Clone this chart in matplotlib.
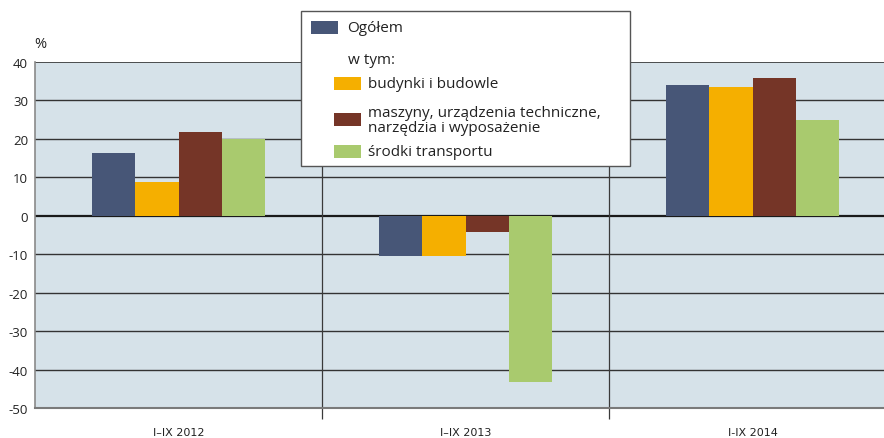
import matplotlib.pyplot as plt
import numpy as np
from matplotlib.patches import Rectangle

categories = ['I–IX 2012', 'I–IX 2013', 'I-IX 2014']
ogolem = [16.3, -10.5, 34.0]
budynki = [8.8, -10.5, 33.5]
maszyny = [21.8, -4.2, 35.9]
transport = [20.0, -43.3, 24.9]

series = [ogolem, budynki, maszyny, transport]
names = ['Ogółem', 'budynki i budowle',
         'maszyny, urządzenia techniczne,\nnarzędzia i wyposażenie',
         'środki transportu']
colors = ['#475677', '#F5AF00', '#753527', '#A9CA6E']

yticks = np.arange(-50, 41, 10)

plt.rcParams['font.family'] = ['Open Sans', 'DejaVu Sans']

fig = plt.figure(figsize=(8.84, 4.39), dpi=100)
ax = fig.add_axes([35 / 884, 30 / 439, 861 / 884, 346 / 439])
ax.set_facecolor('#D6E2E9')

x = np.arange(len(categories))
w = 0.15
for i, (vals, c) in enumerate(zip(series, colors)):
    ax.bar(x + (i - 1.5) * w, vals, w, color=c, zorder=3, linewidth=0)

for y in yticks:
    if y == 0:
        ax.axhline(y, color='#1a1a1a', lw=1.6, zorder=2)
    elif y == 40:
        ax.axhline(y, color='#333333', lw=1.2, zorder=2)
    elif y != -50:
        ax.axhline(y, color='#333333', lw=1.0, zorder=2)
for b in [0.5, 1.5]:
    ax.axvline(b, color='#3a3a3a', lw=0.9, zorder=2)

ax.set_xlim(-0.5, 2.5)
ax.set_ylim(-50, 40)
ax.set_yticks(yticks)
ax.set_yticklabels([str(v) for v in yticks], fontsize=9.5, color='#222222')
ax.tick_params(axis='y', length=0, pad=5)

ax.set_xticks(x)
ax.set_xticklabels(categories, fontsize=8, color='#222222',
                   family=['Liberation Sans Narrow', 'DejaVu Sans'])
ax.tick_params(axis='x', which='major', length=0, pad=14)
ax.set_xticks([0.5, 1.5], minor=True)
ax.tick_params(axis='x', which='minor', length=8, width=0.9, color='#3a3a3a', direction='out')

for s in ['top', 'right']:
    ax.spines[s].set_visible(False)
ax.spines['left'].set_color('#8a8a8a')
ax.spines['left'].set_linewidth(1.2)
ax.spines['bottom'].set_color('#7a7a7a')
ax.spines['bottom'].set_linewidth(1.5)

fig.text(40 / 884, 1 - 45 / 439, '%', fontsize=10.5, ha='center', va='center', color='#222222')

# legend box drawn by hand (figure pixel coords)
H = 439
def fy(py):
    return 1 - py / H
fig.patches.append(Rectangle((301 / 884, fy(167)), 329 / 884, 155 / H,
                             transform=fig.transFigure, facecolor='white',
                             edgecolor='#555555', lw=1.0, zorder=5))
items = [
    (311, 29, colors[0], 347, names[0]),
    (None, 61, None, 348, 'w tym:'),
    (334, 85, colors[1], 368, names[1]),
    (334, 121, colors[2], 368, names[2]),
    (334, 153, colors[3], 368, names[3]),
]
for hx, py, c, tx, label in items:
    if hx is not None:
        fig.patches.append(Rectangle((hx / 884, fy(py + 6)), 27 / 884, 13 / H,
                                     transform=fig.transFigure, facecolor=c,
                                     edgecolor='none', zorder=6))
    fig.text(tx / 884, fy(py), label, fontsize=11, va='center', ha='left',
             color='#222222', zorder=7, linespacing=0.95)

fig.savefig('out.png', dpi=100)
